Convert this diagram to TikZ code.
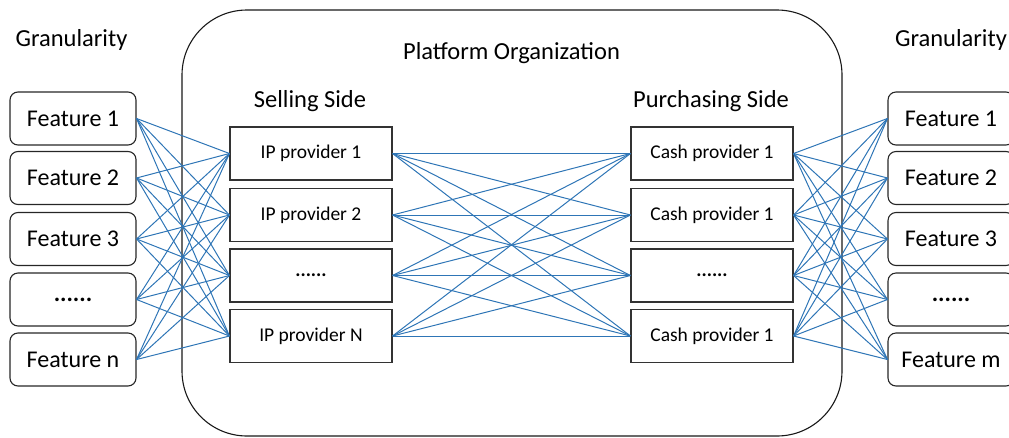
\documentclass[tikz,border=0pt]{standalone}
\usepackage{fontspec}
\setmainfont{Carlito}
\usetikzlibrary{positioning}
\usepackage{xcolor}
\definecolor{linkblue}{RGB}{46,117,182}

\begin{document}
\begin{tikzpicture}[x=1pt, y=-1pt,
	feat/.style={draw=black!85, rounded corners=8pt, line width=1.1pt, minimum width=126pt, minimum height=53pt, font=\fontsize{24}{28}\selectfont},
	prov/.style={draw=black!80, line width=1.1pt, minimum width=162pt, minimum height=53pt, font=\fontsize{19.5}{23}\selectfont},
	head/.style={anchor=base, font=\fontsize{24.5}{29}\selectfont},
	link/.style={draw=linkblue, line width=1pt}]
	\useasboundingbox (0,0) rectangle (1009,437);

	% platform frame and headings
	\node (plat) [draw=black!90, line width=1.1pt, rounded corners=65pt, minimum width=660pt, minimum height=426pt] at (512, 223) {};
	\node (gl) [head] at (71.5, 46) {Granularity};
	\node (gr) [head] at (951, 46) {Granularity};
	\node (po) [head] at (511.5, 59) {Platform Organization};
	\node (ss) [head] at (310, 107) {Selling Side};
	\node (ps) [head] at (711, 107) {Purchasing Side};

	% feature boxes
	\node (fl1) [feat] at (73, 118.5) {Feature 1};
	\node (fl2) [feat] at (73, 178) {Feature 2};
	\node (fl3) [feat] at (73, 239) {Feature 3};
	\node (fl4) [feat] at (73, 299.5) {\textbf{......}};
	\node (fl5) [feat] at (73, 359.5) {Feature n};
	\node (fr1) [feat] at (951, 118.5) {Feature 1};
	\node (fr2) [feat] at (951, 178) {Feature 2};
	\node (fr3) [feat] at (951, 239) {Feature 3};
	\node (fr4) [feat] at (951, 299.5) {\textbf{......}};
	\node (fr5) [feat] at (951, 359.5) {Feature m};

	% provider boxes
	\node (ip1) [prov] at (311, 153.5) {IP provider 1};
	\node (ip2) [prov] at (311, 215) {IP provider 2};
	\node (ip3) [prov] at (311, 275.5) {\textbf{......}};
	\node (ip4) [prov] at (311, 336) {IP provider N};
	\node (cp1) [prov] at (712, 153.5) {Cash provider 1};
	\node (cp2) [prov] at (712, 215) {Cash provider 1};
	\node (cp3) [prov] at (712, 275.5) {\textbf{......}};
	\node (cp4) [prov] at (712, 336) {Cash provider 1};

	% links
	\foreach \i in {1,...,5}
		\foreach \j in {1,...,4} {
			\draw[link] (fl\i.east) -- (ip\j.west);
			\draw[link] (fr\i.west) -- (cp\j.east);
		}
	\foreach \i in {1,...,4}
		\foreach \j in {1,...,4}
			\draw[link] (ip\i.east) -- (cp\j.west);
\end{tikzpicture}
\end{document}
